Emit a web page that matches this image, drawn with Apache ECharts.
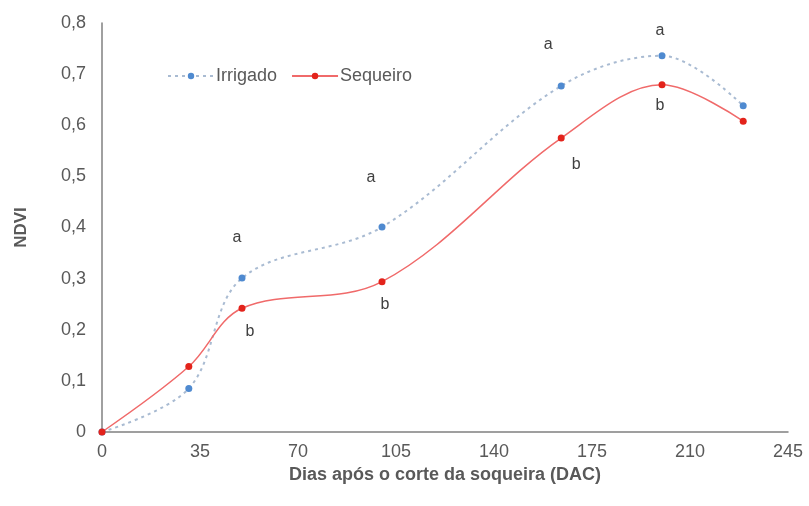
<!DOCTYPE html>
<html>
<head>
<meta charset="utf-8">
<script src="https://cdn.jsdelivr.net/npm/echarts@6/dist/echarts.min.js"></script>
<style>
  html, body { margin: 0; padding: 0; background: #fff; }
  #chart { width: 809px; height: 506px; }
</style>
</head>
<body>
<div id="chart"></div>
<script>
const days = [0, 31, 50, 100, 164, 200, 229]
const irrigado = [0, 0.085, 0.301, 0.401, 0.677, 0.736, 0.638]
const sequeiro = [0, 0.128, 0.242, 0.294, 0.575, 0.679, 0.608]
const letrasIrrigado = ['', '', 'a', 'a', 'a', 'a', '']
const letrasSequeiro = ['', '', 'b', 'b', 'b', 'b', '']
const xTicks = [0, 35, 70, 105, 140, 175, 210, 245]

// letter nudges (px from the point) so they sit where the original has them
const offsA = [null, null, [-5, -41], [-11, -49], [-13, -41], [-2, -25], null]
const offsB = [null, null, [8, 23], [3, 23], [15, 27], [-2, 21], null]

const font = 'Liberation Sans, Arial, sans-serif'

function build(vals, letters, offs) {
  return days.map((d, i) => {
    const item = { value: [d, vals[i]] }
    if (letters[i]) {
      item.label = {
        show: true, formatter: letters[i], position: 'inside', offset: offs[i],
        color: '#404040', fontSize: 16, fontFamily: font
      }
    }
    return item
  })
}

const chart = echarts.init(document.getElementById('chart'))
chart.setOption({
  backgroundColor: '#fff',
  animation: false,
  grid: { left: 102, right: 21, top: 23, bottom: 74 },
  legend: {
    left: 162, top: 62,
    itemWidth: 46, itemHeight: 8, itemGap: 14,
    textStyle: { color: '#595959', fontSize: 18, fontFamily: font, padding: [0, 0, 0, -3] },
    data: ['Irrigado', 'Sequeiro']
  },
  xAxis: {
    type: 'value', min: 0, max: 245, interval: 35,
    name: 'Dias após o corte da soqueira (DAC)',
    nameLocation: 'middle', nameGap: 33,
    nameTextStyle: { color: '#595959', fontSize: 18, fontWeight: 'bold', fontFamily: font },
    axisLine: { lineStyle: { color: '#808080', width: 1.5 } },
    axisTick: { show: false },
    splitLine: { show: false },
    axisLabel: {
      color: '#595959', fontSize: 18, fontFamily: font, margin: 11,
      formatter: v => xTicks.includes(v) ? String(v) : ''
    }
  },
  yAxis: {
    type: 'value', min: 0, max: 0.8, interval: 0.1,
    name: 'NDVI', nameLocation: 'middle', nameGap: 72, nameRotate: 90,
    nameTextStyle: { color: '#595959', fontSize: 17, fontWeight: 'bold', fontFamily: font },
    axisLine: { show: true, lineStyle: { color: '#808080', width: 1.5 } },
    axisTick: { show: false },
    splitLine: { show: false },
    axisLabel: {
      color: '#595959', fontSize: 18, fontFamily: font, margin: 16,
      formatter: v => v === 0 ? '0' : v.toFixed(1).replace('.', ',')
    }
  },
  series: [
    {
      name: 'Irrigado', type: 'line', smooth: 0.35,
      symbol: 'circle', symbolSize: 7,
      itemStyle: { color: '#4f8ad0' },
      lineStyle: { color: '#a9bbd2', width: 2, type: [3, 4] },
      data: build(irrigado, letrasIrrigado, offsA)
    },
    {
      name: 'Sequeiro', type: 'line', smooth: 0.35,
      symbol: 'circle', symbolSize: 7,
      itemStyle: { color: '#e3231b' },
      lineStyle: { color: '#f06a6a', width: 1.5 },
      data: build(sequeiro, letrasSequeiro, offsB)
    }
  ]
})
</script>
</body>
</html>
